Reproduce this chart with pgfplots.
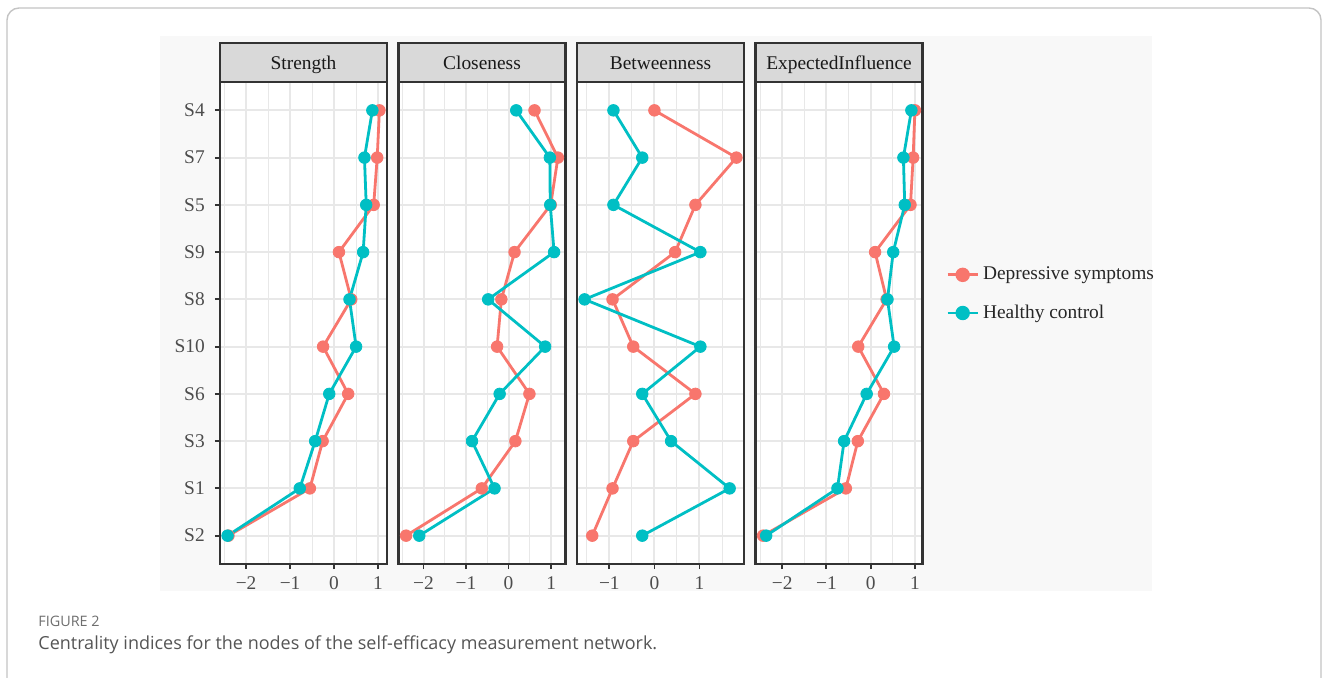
\documentclass[border=0pt]{standalone}
\usepackage{pgfplots}
\usepackage{pgfplotstable}
\pgfplotsset{compat=1.18}
\usepackage{fontspec}
\setmainfont{Liberation Serif}
\newfontfamily\capfont{Open Sans}
\definecolor{dred}{HTML}{F8766D}
\definecolor{hteal}{HTML}{00BFC4}
\definecolor{gridc}{HTML}{E8E8E8}
\definecolor{bord}{HTML}{333333}
\definecolor{stripfill}{HTML}{D9D9D9}
\definecolor{ticklab}{HTML}{4D4D4D}
\definecolor{bggray}{HTML}{F8F8F8}
\definecolor{framegray}{HTML}{C4C4C4}
\definecolor{capgray}{HTML}{555555}

% y: S4=10, S7=9, S5=8, S9=7, S8=6, S10=5, S6=4, S3=3, S1=2, S2=1
\pgfplotstableread{
y dep hc
10 1.03 0.87
9 0.98 0.69
8 0.90 0.73
7 0.11 0.66
6 0.39 0.35
5 -0.25 0.50
4 0.32 -0.11
3 -0.26 -0.43
2 -0.55 -0.78
1 -2.40 -2.42
}\strength
\pgfplotstableread{
y dep hc
10 0.61 0.18
9 1.16 0.97
8 0.99 0.98
7 0.14 1.07
6 -0.17 -0.48
5 -0.27 0.86
4 0.49 -0.21
3 0.16 -0.86
2 -0.63 -0.33
1 -2.41 -2.10
}\closeness
\pgfplotstableread{
y dep hc
10 0.00 -0.91
9 1.82 -0.27
8 0.91 -0.91
7 0.46 1.02
6 -0.93 -1.55
5 -0.47 1.02
4 0.91 -0.27
3 -0.47 0.37
2 -0.93 1.67
1 -1.38 -0.27
}\betweenness
\pgfplotstableread{
y dep hc
10 1.00 0.92
9 0.96 0.74
8 0.90 0.77
7 0.10 0.51
6 0.36 0.38
5 -0.28 0.53
4 0.30 -0.09
3 -0.29 -0.60
2 -0.56 -0.75
1 -2.43 -2.36
}\expinf

\pgfplotsset{
  cpanel/.style={
    scale only axis, width=83.5pt, height=241pt, anchor=south west,
    ymin=0.4, ymax=10.6, ytick={1,...,10},
    grid=both,
    major grid style={line width=1pt, draw=gridc},
    minor grid style={line width=0.5pt, draw=gridc},
    axis line style={draw=bord, line width=1.1pt},
    tick align=outside, tick pos=left,
    major tick length=2.6pt, minor tick length=0pt,
    tick style={draw=bord, line width=0.9pt},
    tick label style={font=\fontsize{9.7}{11}\selectfont, text=ticklab},
    clip=false,
    axis background/.style={fill=white},
    legend image code/.code={\draw[mark repeat=2,mark phase=2] plot coordinates {(0pt,0pt) (7.5pt,0pt) (15pt,0pt)};},
  },
  dline/.style={draw=dred, line width=1.4pt, no markers, forget plot},
  hline/.style={draw=hteal, line width=1.4pt, no markers, forget plot},
  dmark/.style={only marks, mark=*, mark size=2.9pt, color=dred, forget plot},
  hmark/.style={only marks, mark=*, mark size=2.9pt, color=hteal, forget plot},
}

\begin{document}
\begin{tikzpicture}
\begin{scope}[x=0.5pt,y=0.5pt]
\useasboundingbox (0,0) rectangle (1328,677);
\clip (0,0) rectangle (1328,677);
\fill[white] (0,0) rectangle (1328,677);
\draw[framegray, line width=0.7pt, rounded corners=6pt] (7,669) rectangle (1321,-80);
\fill[bggray] (160,641) rectangle (1152,86);
\end{scope}

% Panel 1: Strength
\begin{axis}[cpanel, at={(110pt,56.5pt)},
  xmin=-2.5925, xmax=1.2025,
  xtick={-2,-1,0,1}, xticklabels={−2,−1,0,1},
  minor xtick={-2.5,-1.5,-0.5,0.5},
  yticklabels={S2,S1,S3,S6,S10,S8,S9,S5,S7,S4},
  yticklabel style={xshift=-1.5pt}]
\addplot[dline] table[x=dep,y=y] {\strength};
\addplot[hline] table[x=hc,y=y] {\strength};
\addplot[dmark] table[x=dep,y=y] {\strength};
\addplot[hmark] table[x=hc,y=y] {\strength};
\end{axis}

% Panel 2: Closeness
\begin{axis}[cpanel, at={(199.25pt,56.5pt)},
  xmin=-2.5885, xmax=1.3385,
  xtick={-2,-1,0,1}, xticklabels={−2,−1,0,1},
  minor xtick={-2.5,-1.5,-0.5,0.5},
  ymajorticks=false]
\addplot[dline] table[x=dep,y=y] {\closeness};
\addplot[hline] table[x=hc,y=y] {\closeness};
\addplot[dmark] table[x=dep,y=y] {\closeness};
\addplot[hmark] table[x=hc,y=y] {\closeness};
\end{axis}

% Panel 3: Betweenness
\begin{axis}[cpanel, at={(288.5pt,56.5pt)},
  xmin=-1.7185, xmax=1.9885,
  xtick={-1,0,1}, xticklabels={−1,0,1},
  minor xtick={-1.5,-0.5,0.5,1.5},
  ymajorticks=false]
\addplot[dline] table[x=dep,y=y] {\betweenness};
\addplot[hline] table[x=hc,y=y] {\betweenness};
\addplot[dmark] table[x=dep,y=y] {\betweenness};
\addplot[hmark] table[x=hc,y=y] {\betweenness};
\end{axis}

% Panel 4: ExpectedInfluence
\begin{axis}[cpanel, at={(377.75pt,56.5pt)},
  xmin=-2.6015, xmax=1.1715,
  xtick={-2,-1,0,1}, xticklabels={−2,−1,0,1},
  minor xtick={-2.5,-1.5,-0.5,0.5},
  ymajorticks=false,
  legend style={at={(1.14,0.56)}, anchor=west, draw=none, fill=none, inner sep=0pt,
    font=\fontsize{9.7}{11}\selectfont, text=black!85, row sep=7pt},
  legend cell align=left]
\addlegendimage{dred, line width=1.4pt, mark=*, mark size=2.9pt}
\addlegendentry{Depressive symptoms}
\addlegendimage{hteal, line width=1.4pt, mark=*, mark size=2.9pt}
\addlegendentry{Healthy control}
\addplot[dline] table[x=dep,y=y] {\expinf};
\addplot[hline] table[x=hc,y=y] {\expinf};
\addplot[dmark] table[x=dep,y=y] {\expinf};
\addplot[hmark] table[x=hc,y=y] {\expinf};
\end{axis}

\begin{scope}[x=0.5pt,y=0.5pt]
% strips
\foreach \L/\T in {220/Strength, 398.5/Closeness, 577/Betweenness, 755.5/ExpectedInfluence}{
  \draw[fill=stripfill, draw=bord, line width=1.1pt] (\L,634) rectangle ({\L+167},595);
  \node[font=\fontsize{9.7}{11}\selectfont, text=black!90, anchor=base] at ({\L+83.5},608) {\T};
}
% caption
\node[anchor=base west, inner sep=0pt, font=\capfont\fontsize{7.2}{8}\selectfont, text=capgray!85] at (38,51) {FIGURE 2};
\node[anchor=base west, inner sep=0pt, font=\capfont\fontsize{9.0}{10}\selectfont, text=capgray] at (38,28) {Centrality indices for the nodes of the self-efficacy measurement network.};
\end{scope}
\end{tikzpicture}
\end{document}
